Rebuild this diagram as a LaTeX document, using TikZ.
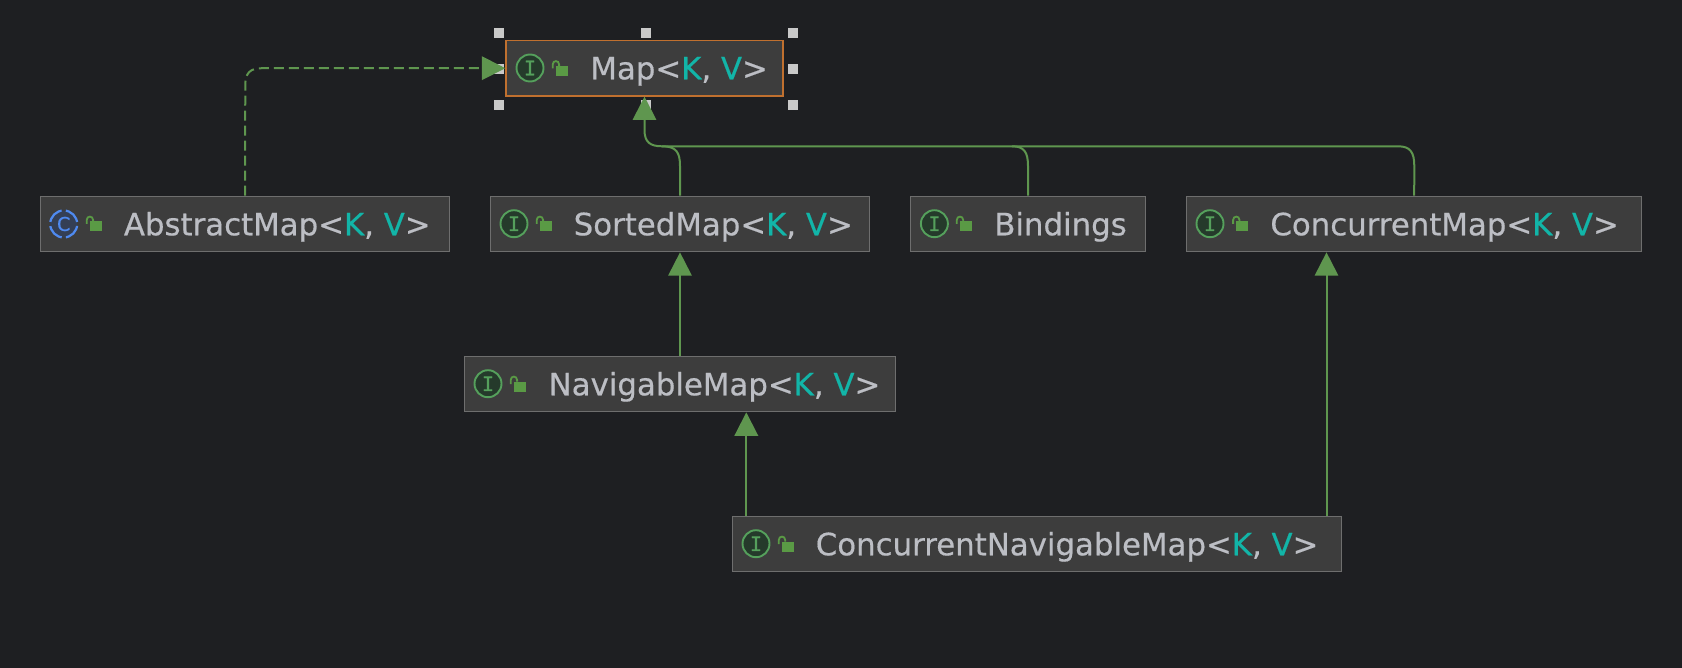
\documentclass[tikz,border=0pt]{standalone}
\usepackage{fontspec}
\setmainfont{DejaVu Sans}
\newfontfamily\labelfont[RawFeature={embolden=0.5}]{DejaVu Sans}
\newfontfamily\iconfont[RawFeature={embolden=0.8}]{DejaVu Sans Mono}
\newfontfamily\iconCfont[RawFeature={embolden=0.8}]{DejaVu Sans}
\usetikzlibrary{arrows.meta}
\definecolor{bgc}{HTML}{1E1F22}
\definecolor{boxc}{HTML}{3D3D3D}
\definecolor{edgec}{HTML}{6E6E6E}
\definecolor{selc}{HTML}{C0702F}
\definecolor{linkc}{HTML}{5F964F}
\definecolor{txtc}{HTML}{BCBEC4}
\definecolor{tealc}{HTML}{12B5A8}
\definecolor{hndc}{HTML}{C9C9C9}
\definecolor{ifacefill}{HTML}{253A2B}
\definecolor{ifacec}{HTML}{55A05C}
\definecolor{classfill}{HTML}{343F55}
\definecolor{classc}{HTML}{4F8AF0}
\definecolor{lockc}{HTML}{5A9A45}
\tikzset{
  x=1pt,y=-1pt,
  umlnode/.style={rectangle,draw=edgec,fill=boxc,line width=1.3pt,inner sep=0pt,minimum height=55.4pt},
  selnode/.style={umlnode,draw=selc},
  label text/.style={anchor=base west,inner sep=0pt,text=txtc,font=\labelfont\fontsize{30.8}{34}\selectfont},
  ifaceicon/.style={circle,draw=ifacec,fill=ifacefill,line width=1.9pt,minimum size=27pt,inner sep=0pt,text=ifacec,font=\iconfont\fontsize{20}{20}\selectfont},
  classicon/.style={circle,draw=classc,fill=classfill,line width=2.2pt,minimum size=27pt,inner sep=0pt,text=classc,dash pattern=on 17pt off 4.2pt,dash phase=-2pt,font=\iconCfont\fontsize{19}{19}\selectfont},
  lockpart/.style={fill=lockc,draw=none},
  shackle/.style={draw=lockc,line width=1.8pt},
  handle/.style={rectangle,fill=hndc,draw=none,minimum size=10pt,inner sep=0pt},
  generalization/.style={draw=linkc,line width=2pt,-{Triangle[width=23.4pt,length=23.4pt,fill=linkc]}},
  realization/.style={generalization,dash pattern=on 10pt off 5pt},
  branch/.style={draw=linkc,line width=2pt},
}
\newcommand{\kv}[1]{\textcolor{tealc}{#1}}
\newcommand{\lockat}[2]{%
  \fill[lockpart] (#1+3,#2-3) rectangle ++(12.3,10);
  \draw[shackle] (#1,#2-0.5) -- (#1,#2-4.5) .. controls (#1,#2-9) and (#1+6.4,#2-9) .. (#1+6.4,#2-4.5) -- (#1+6.4,#2-3);
}
\begin{document}
\begin{tikzpicture}
\useasboundingbox (0,0) rectangle (1682,668);
\fill[bgc] (0,0) rectangle (1682,668);

% selection handles
\node[handle] (h1) at (498.7,33) {};
\node[handle] (h2) at (645.7,33) {};
\node[handle] (h3) at (792.7,33) {};
\node[handle] (h4) at (498.7,69) {};
\node[handle] (h5) at (792.7,69) {};
\node[handle] (h6) at (498.7,105) {};
\node[handle] (h7) at (645.7,105) {};
\node[handle] (h8) at (792.7,105) {};

% boxes
\node[selnode,minimum width=277pt] (map) at (644.5,68.2) {};
\node[umlnode,minimum width=409.4pt] (abstract) at (245,224) {};
\node[umlnode,minimum width=379.4pt] (sorted) at (680,224) {};
\node[umlnode,minimum width=235.2pt] (bindings) at (1028,224) {};
\node[umlnode,minimum width=455pt] (concurrent) at (1414.2,224) {};
\node[umlnode,minimum width=431.4pt] (navigable) at (680,384) {};
\node[umlnode,minimum width=609pt] (cnm) at (1036.9,544) {};

% icons
\node[ifaceicon] (mapI) at (530,68) {I};
\node[classicon] (abstractC) at (63.7,224) {C};
\node[ifaceicon] (sortedI) at (514,223.7) {I};
\node[ifaceicon] (bindingsI) at (934.4,223.7) {I};
\node[ifaceicon] (concurrentI) at (1210,223.7) {I};
\node[ifaceicon] (navigableI) at (488,383.7) {I};
\node[ifaceicon] (cnmI) at (756,543.7) {I};

% locks
\lockat{552.7}{69}
\lockat{86.7}{224.5}
\lockat{536.7}{224.5}
\lockat{956.8}{224.5}
\lockat{1233.1}{224.5}
\lockat{510.7}{384.5}
\lockat{778.8}{544.5}

% labels
\node[label text] (mapL) at (590.2,79.3) {Map<\kv{K}, \kv{V}>};
\node[label text] (abstractL) at (123.7,235.3) {AbstractMap<\kv{K}, \kv{V}>};
\node[label text] (sortedL) at (573.5,235.3) {SortedMap<\kv{K}, \kv{V}>};
\node[label text] (bindingsL) at (994.1,235.3) {Bindings};
\node[label text] (concurrentL) at (1270.2,235.3) {ConcurrentMap<\kv{K}, \kv{V}>};
\node[label text] (navigableL) at (548.5,395.3) {NavigableMap<\kv{K}, \kv{V}>};
\node[label text] (cnmL) at (815.6,555.3) {ConcurrentNavigableMap<\kv{K}, \kv{V}>};

% connector helpers
\coordinate (busL) at (662,146.3);
\coordinate (navTip) at (746.3,0);
\coordinate (conTip) at (1326.5,0);

% connectors
\draw[realization] (abstract.north) -- (245.3,85) .. controls (245.3,73) and (250,68.2) .. (262,68.2) -- (map.west);
\draw[branch] (concurrent.north) -- (1414.3,166) .. controls (1414.3,152) and (1410,146.3) .. (1398,146.3) -- (busL);
\draw[branch] (bindings.north) -- (1028,166) .. controls (1028,152) and (1024,146.3) .. (1012,146.3);
\draw[branch] (sorted.north) -- (680,166) .. controls (680,152) and (676,146.3) .. (662,146.3);
\draw[generalization] (busL) .. controls (650,146.3) and (644.5,142) .. (644.5,130) -- (map.south);
\draw[generalization] (navigable.north) -- (sorted.south);
\draw[generalization] (cnm.north -| navTip) -- (navigable.south -| navTip);
\draw[generalization] (cnm.north -| conTip) -- (concurrent.south -| conTip);
\end{tikzpicture}
\end{document}
